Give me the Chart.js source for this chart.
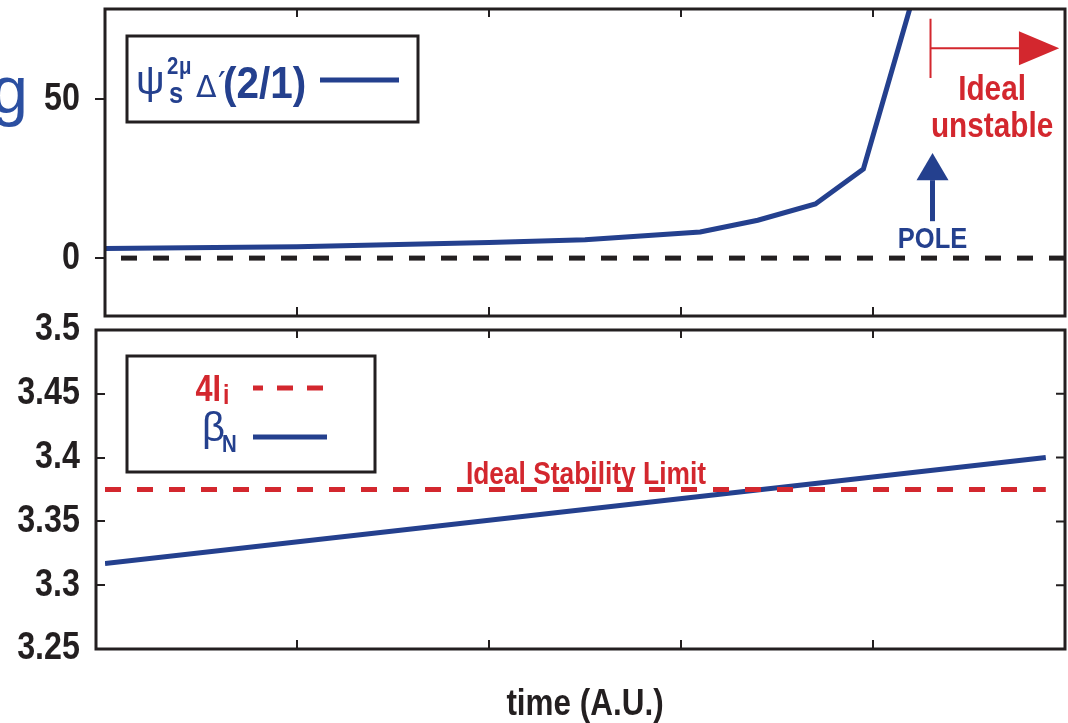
<!DOCTYPE html>
<html>
<head>
<meta charset="utf-8">
<script src="https://cdn.jsdelivr.net/npm/chart.js@4.4.0/dist/chart.umd.min.js"></script>
<style>
  html, body { margin: 0; padding: 0; background: #fff; }
  #wrap { position: relative; width: 1068px; height: 723px; overflow: hidden; }
  #topWrap { position: absolute; left: 0; top: 0; }
  #botWrap { position: absolute; left: 0; top: 300px; }
</style>
</head>
<body>
<div id="wrap">
  <div id="topWrap"><canvas id="deltaChart" width="1068" height="330"></canvas></div>
  <div id="botWrap"><canvas id="betaChart" width="1068" height="423"></canvas></div>
</div>
<script>
// top panel: psi_s^2mu Delta'(2/1) vs time
const timeTop = [0, 1, 2, 2.5, 3.1, 3.4, 3.7, 3.95, 4.3];
const deltaPrime = [3.0, 3.6, 4.9, 5.8, 8.2, 11.9, 17, 28, 101];
const timeRef = [0, 5];
const zeroRef = [0, 0];

// bottom panel: beta_N and 4 l_i
const timeBottom = [0, 4.9];
const betaN = [3.317, 3.4];
const fourLi = [3.375, 3.375];

const timeTicks = [1, 2, 3, 4];
const deltaTicks = [0, 50];
const betaTicks = [3.25, 3.3, 3.35, 3.4, 3.45, 3.5];
const poleTime = 4.31;

const BLUE = "#24408e";
const RED = "#d3272e";
const BLACK = "#231f20";
const SANS = "'Liberation Sans', Arial, sans-serif";
const SQUEEZE = 0.85; // no condensed font installed, so squeeze Liberation Sans

Chart.defaults.font.family = SANS;

const pts = (xs, ys) => xs.map((x, i) => ({ x: x, y: ys[i] }));
const fmt = (v) => String(+Number(v).toFixed(2));

function text(ctx, str, x, y, font, color, align, sx) {
  ctx.save();
  ctx.translate(x, y);
  ctx.scale(sx || 1, 1);
  ctx.font = font;
  ctx.fillStyle = color;
  ctx.textAlign = align || "left";
  ctx.textBaseline = "alphabetic";
  ctx.fillText(str, 0, 0);
  ctx.restore();
}

// wrap a scale draw method so its text comes out condensed around x = cx
function squeezeDraw(scale, name, cxFn) {
  if (scale["_sq_" + name]) return;
  scale["_sq_" + name] = true;
  const orig = scale[name].bind(scale);
  scale[name] = function (arg) {
    const ctx = scale.ctx;
    const cx = cxFn(scale);
    ctx.save();
    ctx.translate(cx, 0);
    ctx.scale(SQUEEZE, 1);
    ctx.translate(-cx, 0);
    orig(arg);
    ctx.restore();
  };
}

function inwardTicks(chart, opts) {
  const { ctx, chartArea: a, scales } = chart;
  ctx.save();
  ctx.strokeStyle = BLACK;
  ctx.lineWidth = 2;
  ctx.beginPath();
  timeTicks.forEach((t) => {
    const px = scales.x.getPixelForValue(t);
    ctx.moveTo(px, a.top); ctx.lineTo(px, a.top + 8);
    ctx.moveTo(px, a.bottom); ctx.lineTo(px, a.bottom - 9);
  });
  if (opts.rightTicks) {
    opts.rightTicks.forEach((v) => {
      const py = scales.y.getPixelForValue(v);
      ctx.moveTo(a.right, py); ctx.lineTo(a.right - 9, py);
    });
  }
  ctx.stroke();
  ctx.lineWidth = 3;
  const shift = opts.leftShift || 0;
  ctx.strokeRect(a.left - shift, a.top, a.right - a.left + shift, a.bottom - a.top);
  ctx.restore();
}

const topFrame = {
  id: "topFrame",
  afterDatasetsDraw(chart) {
    inwardTicks(chart, {});
    const { ctx, scales } = chart;
    const xs = scales.x, ys = scales.y;
    ctx.save();

    // cut-off letter at the far left
    text(ctx, "g", 28, 113, "66px " + SANS, "#2b4fa1", "right");

    // legend box
    ctx.strokeStyle = BLACK;
    ctx.lineWidth = 3;
    ctx.strokeRect(127, 36, 291, 86);
    text(ctx, "\u03c8", 136, 94, "40px " + SANS, BLUE);
    text(ctx, "s", 169, 103, "bold 30px " + SANS, BLUE, "left", SQUEEZE);
    text(ctx, "2", 167, 74, "bold 24px " + SANS, BLUE, "left", SQUEEZE);
    text(ctx, "\u03bc", 179, 74, "bold 24px " + SANS, BLUE, "left", SQUEEZE);
    text(ctx, "\u0394", 196, 97, "30px 'DejaVu Sans', " + SANS, BLUE);
    text(ctx, "\u2032", 218, 96, "34px 'DejaVu Sans', " + SANS, BLUE);
    text(ctx, "(2/1)", 223, 98, "bold 44px " + SANS, BLUE, "left", 0.92);
    ctx.strokeStyle = BLUE;
    ctx.lineWidth = 5;
    ctx.beginPath(); ctx.moveTo(320, 80); ctx.lineTo(399, 80); ctx.stroke();

    // POLE arrow
    const px = xs.getPixelForValue(poleTime);
    ctx.strokeStyle = BLUE;
    ctx.fillStyle = BLUE;
    ctx.lineWidth = 5;
    ctx.beginPath();
    ctx.moveTo(px, ys.getPixelForValue(11.6));
    ctx.lineTo(px, ys.getPixelForValue(24.5));
    ctx.stroke();
    ctx.beginPath();
    ctx.moveTo(px - 16, ys.getPixelForValue(24.5));
    ctx.lineTo(px + 16, ys.getPixelForValue(24.5));
    ctx.lineTo(px, ys.getPixelForValue(33));
    ctx.closePath();
    ctx.fill();
    text(ctx, "POLE", px, ys.getPixelForValue(3.1), "bold 30px " + SANS, BLUE, "center", SQUEEZE);

    // ideal unstable marker
    ctx.strokeStyle = RED;
    ctx.fillStyle = RED;
    ctx.lineWidth = 2;
    const midY = ys.getPixelForValue(66);
    const tipX = xs.getPixelForValue(4.97);
    const baseX = xs.getPixelForValue(4.76);
    ctx.beginPath();
    ctx.moveTo(px - 2, ys.getPixelForValue(75.2));
    ctx.lineTo(px - 2, ys.getPixelForValue(56.6));
    ctx.moveTo(px - 2, midY);
    ctx.lineTo(baseX, midY);
    ctx.stroke();
    ctx.beginPath();
    ctx.moveTo(baseX, midY - 17);
    ctx.lineTo(tipX, midY);
    ctx.lineTo(baseX, midY + 17);
    ctx.closePath();
    ctx.fill();
    const cx = xs.getPixelForValue(4.62);
    text(ctx, "Ideal", cx, ys.getPixelForValue(49.7), "bold 35px " + SANS, RED, "center", SQUEEZE);
    text(ctx, "unstable", cx, ys.getPixelForValue(38.1), "bold 35px " + SANS, RED, "center", SQUEEZE);
    ctx.restore();
  }
};

const bottomFrame = {
  id: "bottomFrame",
  afterDatasetsDraw(chart) {
    inwardTicks(chart, { rightTicks: [3.3, 3.35, 3.4, 3.45], leftShift: 9 });
    const { ctx, scales } = chart;
    ctx.save();
    // legend box (canvas starts at page y = 300)
    ctx.strokeStyle = BLACK;
    ctx.lineWidth = 3;
    ctx.strokeRect(127, 56, 248, 116);
    text(ctx, "4I", 221, 101, "bold 36px " + SANS, RED, "right", SQUEEZE);
    text(ctx, "i", 223, 104, "bold 27px " + SANS, RED, "left", SQUEEZE);
    ctx.strokeStyle = RED;
    ctx.lineWidth = 5;
    ctx.setLineDash([16, 14]);
    ctx.lineDashOffset = 6;
    ctx.beginPath(); ctx.moveTo(253, 88); ctx.lineTo(327, 88); ctx.stroke();
    ctx.setLineDash([]);
    text(ctx, "\u03b2", 202, 141, "40px " + SANS, BLUE);
    text(ctx, "N", 222, 152, "bold 24px " + SANS, BLUE, "left", SQUEEZE);
    ctx.strokeStyle = BLUE;
    ctx.beginPath(); ctx.moveTo(253, 137); ctx.lineTo(327, 137); ctx.stroke();

    const lx = scales.x.getPixelForValue(2.505);
    const ly = scales.y.getPixelForValue(fourLi[0]) - 6;
    text(ctx, "Ideal Stability Limit", lx, ly, "bold 31px " + SANS, RED, "center", SQUEEZE);
    ctx.restore();
  }
};

function yAxis(min, max, ticks) {
  return {
    type: "linear",
    min: min,
    max: max,
    afterBuildTicks: (s) => { s.ticks = ticks.map((v) => ({ value: v })); },
    ticks: { font: { size: 38, weight: "bold" }, color: BLACK, padding: 15, callback: fmt },
    grid: { drawOnChartArea: false, drawTicks: true, tickLength: 10, color: BLACK, lineWidth: 2 },
    border: { display: false },
    afterFit: (s) => {
      s.width = 105; s.paddingTop = 0; s.paddingBottom = 0;
      squeezeDraw(s, "drawLabels", (sc) => sc.right - 25);
    }
  };
}

function xAxis(height, title) {
  return {
    type: "linear",
    min: 0,
    max: 5,
    afterBuildTicks: (s) => { s.ticks = timeTicks.map((v) => ({ value: v })); },
    ticks: { display: false },
    grid: { display: false },
    border: { display: false },
    title: title,
    afterFit: (s) => {
      s.height = height; s.paddingLeft = 0; s.paddingRight = 0;
      squeezeDraw(s, "drawTitle", (sc) => (sc.left + sc.right) / 2);
    }
  };
}

new Chart(document.getElementById("deltaChart"), {
  type: "line",
  data: {
    datasets: [
      { label: "psi Delta'(2/1)", data: pts(timeTop, deltaPrime), borderColor: BLUE, borderWidth: 5, pointRadius: 0, clip: 0 },
      { label: "zero", data: pts(timeRef, zeroRef), borderColor: BLACK, borderWidth: 5, borderDash: [16, 16], borderDashOffset: 16, pointRadius: 0 }
    ]
  },
  options: {
    responsive: false,
    animation: false,
    layout: { padding: { left: 0, right: 3, top: 9, bottom: 0 } },
    plugins: { legend: { display: false }, tooltip: { enabled: false } },
    scales: { x: xAxis(14, { display: false }), y: yAxis(-18.2, 78.3, deltaTicks) }
  },
  plugins: [topFrame]
});

new Chart(document.getElementById("betaChart"), {
  type: "line",
  data: {
    datasets: [
      { label: "4li", data: pts(timeBottom, fourLi), borderColor: RED, borderWidth: 5, borderDash: [16, 16], pointRadius: 0 },
      { label: "betaN", data: pts(timeBottom, betaN), borderColor: BLUE, borderWidth: 5, pointRadius: 0 }
    ]
  },
  options: {
    responsive: false,
    animation: false,
    layout: { padding: { left: 0, right: 3, top: 30, bottom: 0 } },
    plugins: { legend: { display: false }, tooltip: { enabled: false } },
    scales: {
      x: xAxis(74, { display: true, text: "time (A.U.)", color: BLACK, font: { size: 37, weight: "bold", lineHeight: 1 }, padding: { top: 0, bottom: 0 } }),
      y: yAxis(3.25, 3.5, betaTicks)
    }
  },
  plugins: [bottomFrame]
});
</script>
</body>
</html>
